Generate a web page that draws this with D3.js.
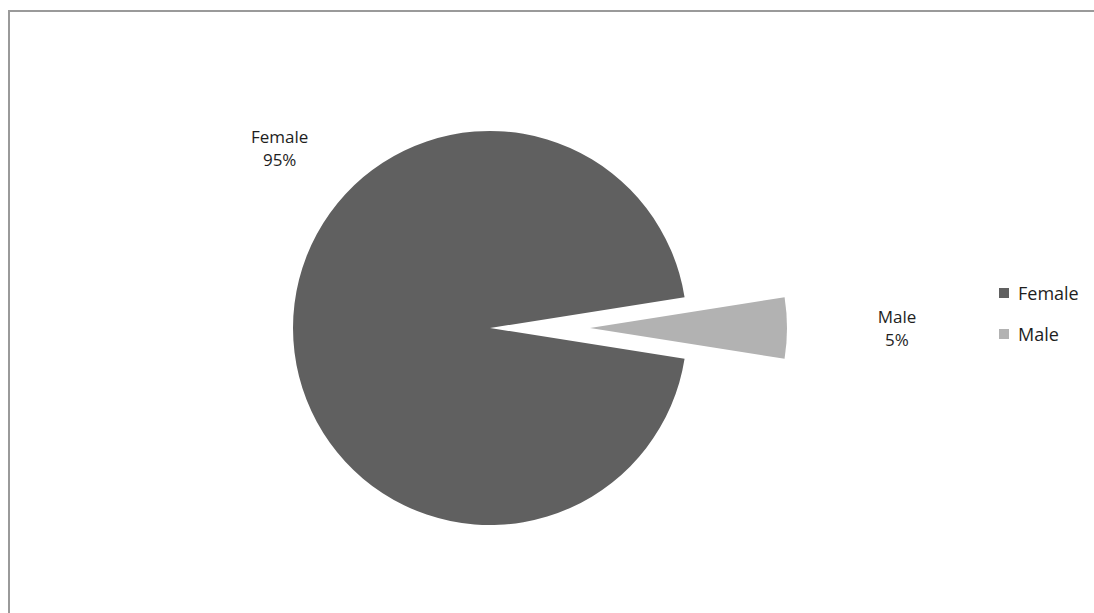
<!DOCTYPE html>
<html>
<head>
<meta charset="utf-8">
<script src="https://cdn.jsdelivr.net/npm/d3@7"></script>
<style>
  html, body { margin: 0; padding: 0; background: #fff; }
  svg { display: block; }
  text { font-family: "Open Sans", "Noto Sans", sans-serif; fill: #1e1e1e; }
</style>
</head>
<body>
<svg id="chart" width="1094" height="613"></svg>
<script>
// Gender split of respondents
const categories = ["Female", "Male"];
const values = [95, 5];
const percentLabels = ["95%", "5%"];
const colors = ["#606060", "#b2b2b2"];

const svg = d3.select("#chart");
const W = 1094, H = 613;

// chart frame (open on the right and bottom)
svg.append("path")
  .attr("d", `M9,${H + 5} V11 H${W + 5}`)
  .attr("fill", "none")
  .attr("stroke", "#9a9a9a")
  .attr("stroke-width", 2);

const cx = 490, cy = 328, radius = 197;
const explode = [0, 100];

// Male slice centred on the 3 o'clock direction
const deg = Math.PI / 180;
const start = 99 * deg;
const pie = d3.pie().sort(null).startAngle(start).endAngle(start + 2 * Math.PI);
const arcs = pie(values);
const arc = d3.arc().innerRadius(0).outerRadius(radius);

const g = svg.append("g").attr("transform", `translate(${cx},${cy})`);

function offset(d, i, r) {
  const mid = (d.startAngle + d.endAngle) / 2;
  return [Math.sin(mid) * r, -Math.cos(mid) * r];
}

g.selectAll("path.slice")
  .data(arcs)
  .join("path")
  .attr("class", "slice")
  .attr("d", arc)
  .attr("fill", (d, i) => colors[i])
  .attr("transform", (d, i) => {
    const [dx, dy] = offset(d, i, explode[i]);
    return `translate(${dx},${dy})`;
  });

// data labels: Female sits upper-left of the pie, Male beyond its wedge
const labelPos = [
  (d, i) => [Math.sin(310.6 * deg) * 277, -Math.cos(310.6 * deg) * 277],
  (d, i) => offset(d, i, explode[i] + 307)
];

const labels = g.selectAll("g.label")
  .data(arcs)
  .join("g")
  .attr("class", "label")
  .attr("transform", (d, i) => {
    const [x, y] = labelPos[i](d, i);
    return `translate(${x},${y})`;
  });

labels.append("text")
  .attr("text-anchor", "middle")
  .attr("font-size", 17)
  .attr("y", -5)
  .text((d, i) => categories[i]);
labels.append("text")
  .attr("text-anchor", "middle")
  .attr("font-size", 17)
  .attr("y", 18)
  .text((d, i) => percentLabels[i]);

// legend
const legend = svg.append("g").attr("transform", "translate(999,288)");
const items = legend.selectAll("g")
  .data(categories)
  .join("g")
  .attr("transform", (d, i) => `translate(0,${i * 41})`);
items.append("rect")
  .attr("width", 10).attr("height", 10)
  .attr("fill", (d, i) => colors[i]);
items.append("text")
  .attr("x", 19).attr("y", 12)
  .attr("font-size", 18)
  .text(d => d);
</script>
</body>
</html>
